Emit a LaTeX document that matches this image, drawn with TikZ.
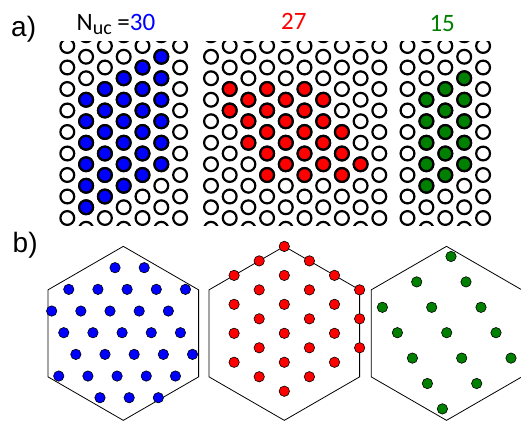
\documentclass[tikz,border=0pt]{standalone}
\usepackage{fontspec}
\setmainfont{Carlito}
\newfontfamily\arialf{Liberation Sans}
\definecolor{dkgreen}{rgb}{0,0.5,0}
\begin{document}
\begin{tikzpicture}[x=1pt,y=-1pt,
  ring/.style={draw=black,line width=2.2pt,fill=white},
  bluering/.style={draw=black,line width=2.2pt,fill=blue},
  redring/.style={draw=black,line width=2.2pt,fill=red},
  greenring/.style={draw=black,line width=2.2pt,fill=dkgreen},
  hexline/.style={draw=black,line width=0.8pt},
  bluedot/.style={draw=black,line width=0.6pt,fill=blue},
  reddot/.style={draw=black,line width=0.6pt,fill=red},
  greendot/.style={draw=black,line width=0.6pt,fill=dkgreen},
  lbl/.style={inner sep=0pt,font=\fontsize{25}{30}\selectfont},
  panellbl/.style={inner sep=0pt,font=\arialf\fontsize{28}{32}\selectfont}]
\useasboundingbox (0,0) rectangle (521,420);
\fill[white] (0,0) rectangle (521,420);

% ---------- panel a) lattices ----------
% left lattice (blue)
\begin{scope}
\clip (50,42) rectangle (200,225);
\foreach \c in {0,...,6}{
  \foreach \j in {-1,...,17}{
    \pgfmathtruncatemacro\s{\c+\j+20}
    \ifodd\s\else
      \draw[ring] ({67.3+18.8*\c},{46+10.75*\j}) circle[radius=6.9pt];
    \fi
  }
}
\foreach \c in {1,...,5}{
  \foreach \t in {0,...,5}{
    \pgfmathsetmacro\jj{6-\c+2*\t}
    \draw[bluering] ({67.3+18.8*\c},{46+10.75*\jj}) circle[radius=6.9pt];
  }
}
\end{scope}

% middle lattice (red)
\begin{scope}
\clip (195,42) rectangle (395,225);
\foreach \c in {0,...,9}{
  \foreach \j in {-1,...,17}{
    \pgfmathtruncatemacro\s{\c+\j+20}
    \ifodd\s
      \draw[ring] ({211+18.7*\c},{46+10.75*\j}) circle[radius=6.9pt];
    \fi
  }
}
\foreach \c/\j in {1/4,3/4,5/4,2/5,4/5,6/5,1/6,3/6,5/6,2/7,4/7,6/7,3/8,5/8,7/8,2/9,4/9,6/9,3/10,5/10,7/10,4/11,6/11,8/11,3/12,5/12,7/12}{
  \draw[redring] ({211+18.7*\c},{46+10.75*\j}) circle[radius=6.9pt];
}
\end{scope}

% right lattice (green)
\begin{scope}
\clip (395,42) rectangle (500,225);
\foreach \c in {0,...,4}{
  \foreach \j in {-1,...,17}{
    \pgfmathtruncatemacro\s{\c+\j+20}
    \ifodd\s\else
      \draw[ring] ({407.5+18.9*\c},{46+10.75*\j}) circle[radius=6.9pt];
    \fi
  }
}
\foreach \c in {1,...,3}{
  \foreach \t in {0,...,4}{
    \pgfmathsetmacro\jj{6-\c+2*\t}
    \draw[greenring] ({407.5+18.9*\c},{46+10.75*\jj}) circle[radius=6.9pt];
  }
}
\end{scope}

% ---------- labels ----------
\node[panellbl,anchor=base west] (la) at (11,36.7) {a)};
\node[panellbl,anchor=base west] (lb) at (12.5,252) {b)};
\node[lbl,anchor=base west] (nuc) at (76.5,30.5) {N\raisebox{-4pt}{\fontsize{20}{20}\selectfont uc} =\textcolor{blue}{30}};
\node[lbl,anchor=base,text=red] (n27) at (293.8,30) {27};
\node[lbl,anchor=base,text=dkgreen] (n15) at (442.2,31) {15};

% ---------- panel b) hexagons ----------
\foreach \cx in {123.3,284.3,446.5}{
  \draw[hexline] (\cx,333.3) ++(0,-86.95) -- ++(75.3,43.5) -- ++(0,87) -- ++(-75.3,43.5) -- ++(-75.3,-43.5) -- ++(0,-87) -- cycle;
}

% blue dots
\foreach \k/\ma/\mb in {-3/1/2,-2/-1/3,-1/-2/2,0/-2/2,1/-2/2,2/-3/1,3/-2/0}{
  \foreach \m in {\ma,...,\mb}{
    \draw[bluedot] ({122.1+29.17*\m+12.08*\k},{332.7+21.67*\k}) circle[radius=5.2pt];
  }
}
% red dots
\foreach \j/\ia/\ib in {-6/0/0,-5/-1/1,-4/-2/2,-3/-1/3,-2/-2/2,-1/-1/3,0/-2/2,1/-1/3,2/-2/2,3/-1/1,4/0/0}{
  \foreach \i in {\ia,...,\ib}{
    \pgfmathtruncatemacro\s{\i+\j+20}
    \ifodd\s\else
      \draw[reddot] ({284.3+25.1*\i},{333.3+14.48*\j}) circle[radius=5.2pt];
    \fi
  }
}
% green dots
\foreach \q/\pa/\pb in {-3/1/1,-2/0/1,-1/-1/1,0/-1/1,1/-1/1,2/-1/0,3/-1/-1}{
  \foreach \p in {\pa,...,\pb}{
    \draw[greendot] ({446.7+49.3*\p+15*\q},{332.7+25.4*\q}) circle[radius=5.2pt];
  }
}
\end{tikzpicture}
\end{document}
